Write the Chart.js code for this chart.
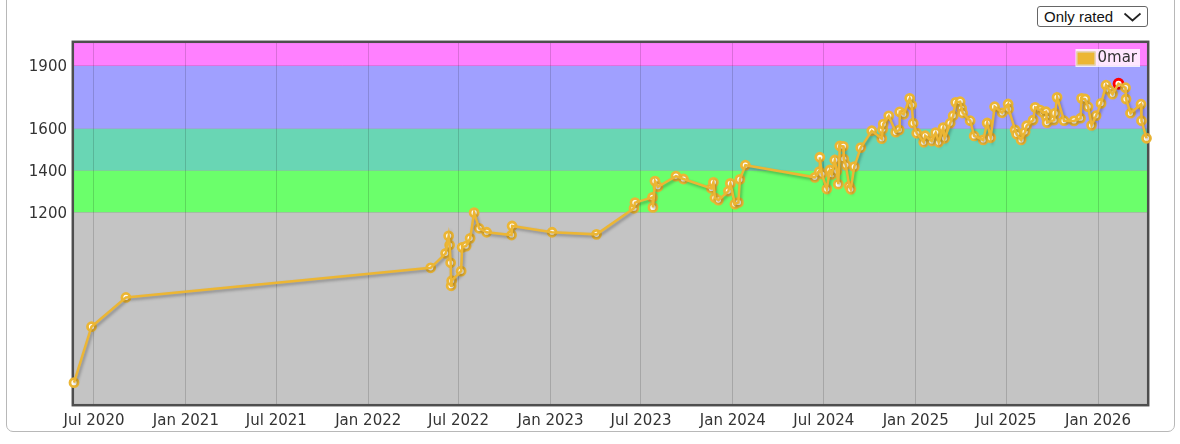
<!DOCTYPE html>
<html>
<head>
<meta charset="utf-8">
<script src="https://cdn.jsdelivr.net/npm/chart.js@4.4.1/dist/chart.umd.min.js"></script>
<style>
html,body{margin:0;padding:0;background:#fff;width:1180px;height:444px;overflow:hidden;}
#panel{position:absolute;left:6px;top:-20px;width:1169px;height:452px;border:1px solid #b8b8b8;border-radius:7px;box-sizing:border-box;}
#wrap{position:absolute;left:0;top:0;width:1180px;height:444px;}
#sel{position:absolute;left:1037px;top:6px;width:111px;height:21px;border:1px solid #666;border-radius:3px;box-sizing:border-box;background:#fff;font:15px "Liberation Sans",Arial,sans-serif;color:#111;line-height:19px;padding-left:6px;}
#sel svg{position:absolute;left:85px;top:5px;}
</style>
</head>
<body>
<div id="panel"></div>
<div id="wrap"><canvas id="c" width="1180" height="444"></canvas></div>
<div id="sel">Only rated<svg width="19" height="10" viewBox="0 0 19 10"><polyline points="1.5,1.5 9.5,8.5 17.5,1.5" fill="none" stroke="#222" stroke-width="1.7"/></svg></div>
<script>
const seriesLabel = '0mar';
const ratingDates = [
'2020-05-22','2020-06-26','2020-09-03',
'2022-05-06','2022-06-05','2022-06-11','2022-06-13','2022-06-15','2022-06-16','2022-06-17',
'2022-07-06','2022-07-08','2022-07-16','2022-07-24','2022-08-01','2022-08-11','2022-08-26',
'2022-10-15','2022-10-16','2023-01-04','2023-04-03','2023-06-17','2023-06-19','2023-07-24',
'2023-07-25','2023-07-29','2023-08-04','2023-09-09','2023-09-24','2023-11-19','2023-11-23',
'2023-11-26','2023-12-03','2023-12-23','2023-12-27','2024-01-05','2024-01-12','2024-01-15',
'2024-01-26','2024-06-13','2024-06-22','2024-06-23','2024-06-27','2024-07-07','2024-07-13',
'2024-07-17','2024-07-23','2024-07-27','2024-07-30','2024-08-02','2024-08-09','2024-08-10',
'2024-08-14','2024-08-21','2024-08-24','2024-08-31','2024-09-13','2024-10-05','2024-10-25',
'2024-10-27','2024-10-28','2024-11-08','2024-11-22','2024-11-29','2024-11-30','2024-12-08',
'2024-12-20','2024-12-24','2024-12-27','2025-01-03','2025-01-17','2025-01-20','2025-02-02',
'2025-02-10','2025-02-16','2025-02-25','2025-02-28','2025-03-11','2025-03-17','2025-03-22',
'2025-03-31','2025-04-03','2025-04-05','2025-04-20','2025-04-28','2025-05-16','2025-05-24',
'2025-05-31','2025-06-08','2025-06-23','2025-07-05','2025-07-06','2025-07-19','2025-07-22',
'2025-07-31','2025-08-08','2025-08-11','2025-08-24','2025-08-28','2025-09-07','2025-09-13',
'2025-09-19','2025-09-20','2025-09-21','2025-10-05','2025-10-07','2025-10-11','2025-10-25',
'2025-11-14','2025-11-27','2025-11-29','2025-12-06','2025-12-12','2025-12-19','2025-12-28',
'2026-01-07','2026-01-17','2026-01-23','2026-01-30','2026-02-11','2026-02-25','2026-02-26',
'2026-03-07','2026-03-28','2026-03-29','2026-04-08'
];
const ratingValues = [
384,652,792,
934,1003,1087,1043,958,848,872,
918,1032,1038,1075,1198,1123,1104,
1091,1134,1104,1094,1219,1246,1271,
1223,1349,1322,1373,1359,1314,1343,
1269,1258,1301,1338,1239,1247,1357,
1425,1367,1394,1463,1383,1311,1402,
1381,1450,1397,1334,1517,1515,1455,
1426,1325,1310,1418,1509,1590,1552,
1597,1622,1661,1583,1594,1680,1669,
1745,1713,1626,1578,1535,1566,1541,
1581,1535,1605,1554,1626,1662,1726,
1729,1697,1675,1638,1565,1546,1627,
1557,1705,1676,1718,1694,1594,1573,
1546,1585,1614,1641,1702,1689,1676,
1681,1650,1629,1641,1674,1750,1638,
1637,1650,1745,1742,1705,1616,1662,
1721,1808,1785,1765,1815,1796,1742,
1674,1717,1638,1554
];
const xRange = ['2020-05-22','2026-04-09'];
const xTickDates = ['2020-07-01','2021-01-01','2021-07-01','2022-01-01','2022-07-01','2023-01-01','2023-07-01','2024-01-01','2024-07-01','2025-01-01','2025-07-01','2026-01-01'];
const xTickLabels = ['Jul 2020','Jan 2021','Jul 2021','Jan 2022','Jul 2022','Jan 2023','Jul 2023','Jan 2024','Jul 2024','Jan 2025','Jul 2025','Jan 2026'];
const yRange = [282, 2010];
const yTickValues = [1200, 1400, 1600, 1900];
const bandLimits = [1200, 1400, 1600, 1900];
const bandColors = ['#c4c4c4', '#6bff6b', '#69d6b4', '#a0a0ff', '#ff80ff'];

const lineColor = '#ecb634';
const maxIdx = ratingValues.indexOf(Math.max(...ratingValues));
const points = ratingDates.map((d, i) => ({x: Date.parse(d), y: ratingValues[i]}));

const bandsPlugin = {
  id: 'bands',
  beforeDraw(chart) {
    const {ctx, chartArea: a, scales: {y}} = chart;
    const edges = [y.min, ...bandLimits, y.max];
    ctx.save();
    for (let i = 0; i < edges.length - 1; i++) {
      const top = y.getPixelForValue(edges[i + 1]);
      const bot = y.getPixelForValue(edges[i]);
      ctx.fillStyle = bandColors[i];
      ctx.fillRect(a.left, top, a.right - a.left, bot - top);
    }
    ctx.restore();
  }
};
const framePlugin = {
  id: 'frame',
  beforeDatasetsDraw(chart) {
    const {ctx, chartArea: a} = chart;
    ctx.save();
    ctx.strokeStyle = '#4e4e4e';
    ctx.lineWidth = 2.5;
    ctx.strokeRect(a.left - 1.2, a.top - 1.2, a.right - a.left + 2.4, a.bottom - a.top + 2.4);
    ctx.restore();
  }
};
const shadowPlugin = {
  id: 'shadow',
  beforeDatasetDraw(chart, args) {
    const ctx = chart.ctx;
    ctx.save();
    if (args.index === 0) {
      ctx.shadowColor = 'rgba(0,0,0,0.3)';
      ctx.shadowBlur = 3;
      ctx.shadowOffsetX = 1.5;
      ctx.shadowOffsetY = 2;
    }
  },
  afterDatasetDraw(chart) { chart.ctx.restore(); }
};
const legendPlugin = {
  id: 'legendBox',
  afterDatasetsDraw(chart) {
    const {ctx, chartArea: a} = chart;
    const ds = chart.data.datasets[0];
    ctx.save();
    ctx.font = '15px "DejaVu Sans"';
    const tw = ctx.measureText(ds.label).width;
    const right = a.right - 7, top = a.top + 6, h = 18, sw = 19;
    const w = sw + 3 + tw + 3;
    const left = right - w;
    ctx.fillStyle = 'rgba(255,255,255,0.8)';
    ctx.fillRect(left, top, w, h);
    ctx.fillStyle = ds.borderColor;
    ctx.fillRect(left + 1, top + 2.5, sw, 14);
    ctx.strokeStyle = 'rgba(220,220,220,0.9)';
    ctx.lineWidth = 1;
    ctx.strokeRect(left + 1.5, top + 3, sw - 1, 13);
    ctx.fillStyle = '#333';
    ctx.textBaseline = 'middle';
    ctx.fillText(ds.label, left + sw + 3, top + h / 2 + 0.5);
    ctx.restore();
  }
};

Chart.defaults.font.family = '"DejaVu Sans"';
new Chart(document.getElementById('c'), {
  type: 'line',
  data: {
    datasets: [{
      label: seriesLabel,
      data: points,
      borderColor: lineColor,
      backgroundColor: lineColor,
      borderWidth: 2.5,
      tension: 0,
      clip: false,
      pointRadius: 0,
      pointHoverRadius: 0
    }, {
      label: seriesLabel,
      data: points,
      showLine: false,
      clip: false,
      borderColor: lineColor,
      backgroundColor: '#ffffff',
      pointStyle: 'circle',
      pointBackgroundColor: '#ffffff',
      pointBorderColor: c => c.dataIndex === maxIdx ? '#ff0000' : lineColor,
      pointRadius: c => c.dataIndex === maxIdx ? 4.5 : 4.0,
      pointBorderWidth: 2.8
    }]
  },
  options: {
    responsive: false,
    animation: false,
    devicePixelRatio: 1,
    layout: {padding: {left: 0, right: 33, top: 43, bottom: 0}},
    plugins: {legend: {display: false}, tooltip: {enabled: false}},
    scales: {
      x: {
        type: 'linear',
        min: Date.parse(xRange[0]),
        max: Date.parse(xRange[1]),
        afterBuildTicks(s) { s.ticks = xTickDates.map(d => ({value: Date.parse(d)})); },
        afterFit(s) { s.height = 40; },
        ticks: {autoSkip: false, maxRotation: 0, minRotation: 0, padding: 8, color: '#333', font: {size: 15}, callback: (v, i) => xTickLabels[i]},
        grid: {color: 'rgba(0,0,0,0.15)', drawTicks: false, lineWidth: 1},
        border: {display: false}
      },
      y: {
        min: yRange[0],
        max: yRange[1],
        afterBuildTicks(s) { s.ticks = yTickValues.map(v => ({value: v})); },
        afterFit(s) { s.width = 74; },
        ticks: {padding: 7, labelOffset: 1.5, color: '#333', font: {size: 15}, callback: v => String(v)},
        grid: {color: 'rgba(0,0,0,0.12)', drawTicks: false, lineWidth: 1},
        border: {display: false}
      }
    }
  },
  plugins: [bandsPlugin, framePlugin, shadowPlugin, legendPlugin]
});
</script>
</body>
</html>
